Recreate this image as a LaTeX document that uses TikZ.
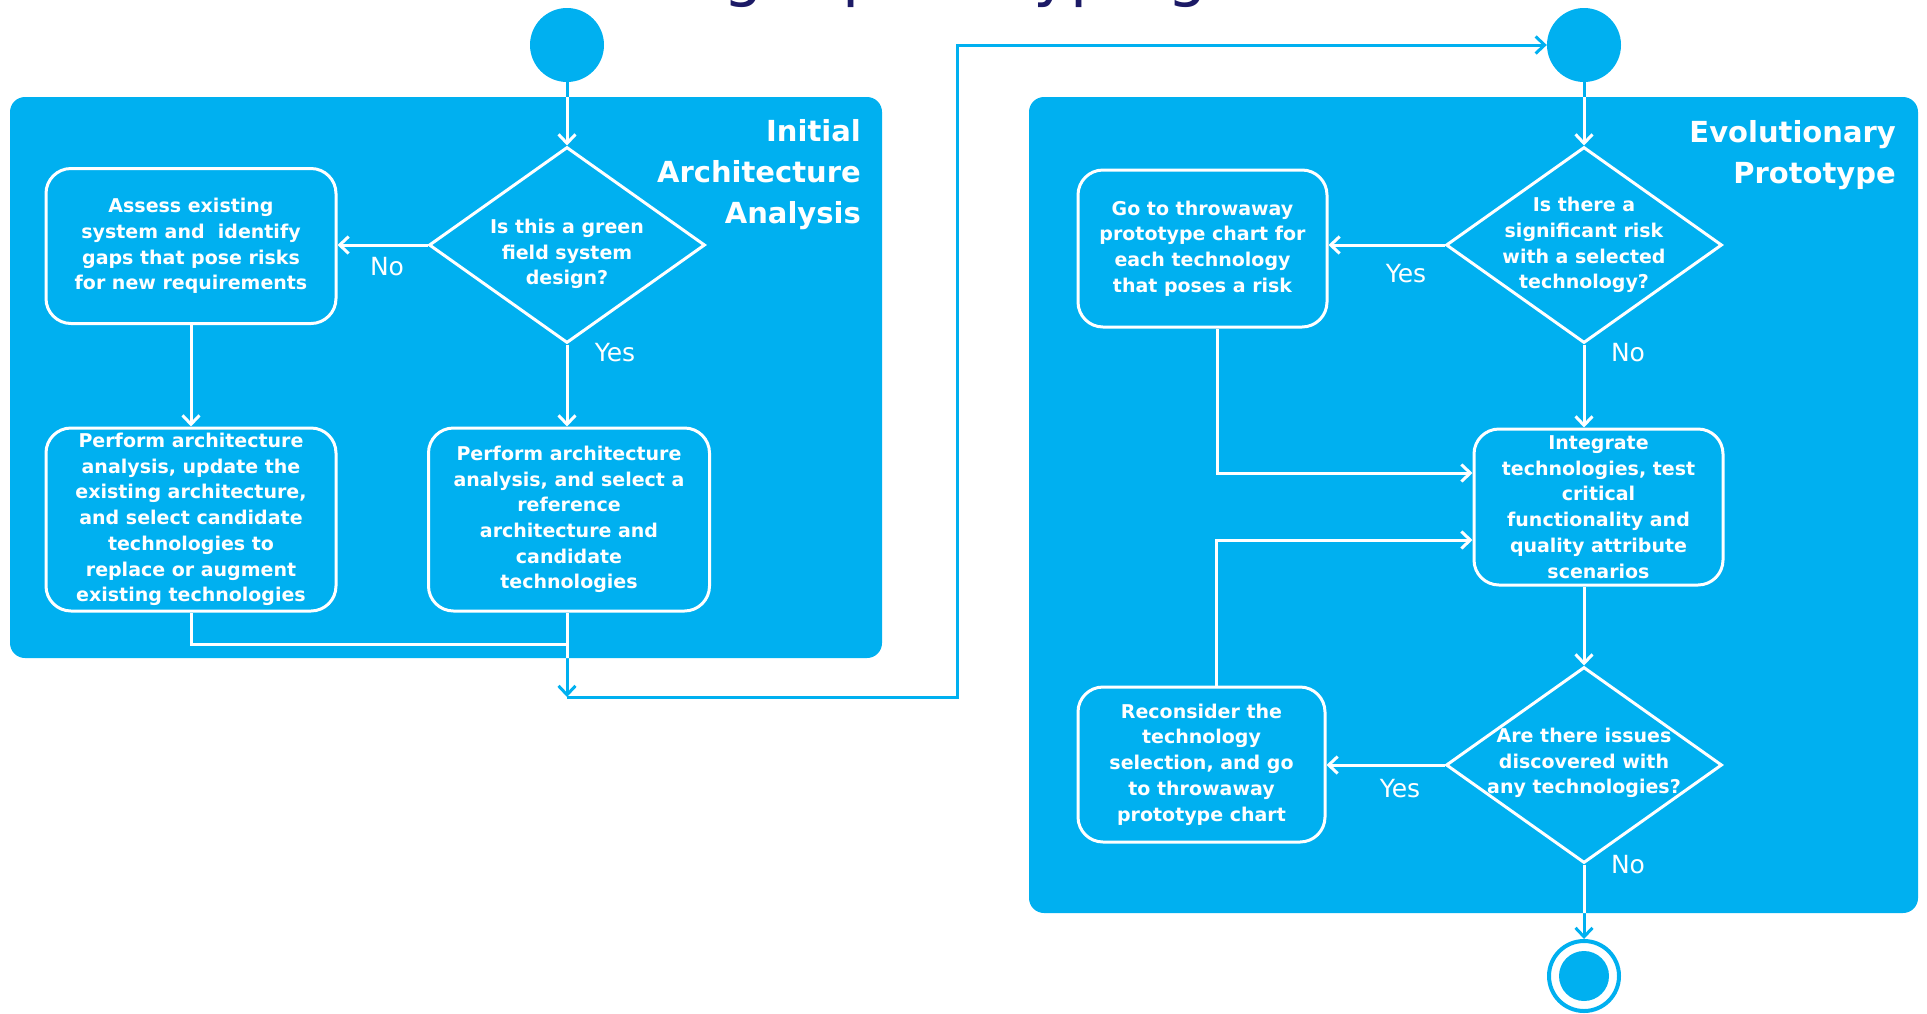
\documentclass[tikz,border=0pt]{standalone}
\usepackage{fontspec}
\setmainfont{DejaVu Sans}
\usetikzlibrary{shapes.geometric,arrows.meta}

\definecolor{panelblue}{RGB}{0,176,240}
\definecolor{titlenavy}{RGB}{28,26,102}
\colorlet{flowcol}{panelblue}

\newcommand\stepfont{\fontsize{19}{25.7}\selectfont\bfseries}
\newcommand\branchfont{\fontsize{25}{30}\selectfont}
\newcommand\lanefont{\fontsize{29}{41}\selectfont\bfseries}

\tikzset{
  panel/.style={fill=panelblue, rounded corners=15pt},
  startdot/.style={circle, fill=panelblue, minimum size=74pt, inner sep=0},
  stepbox/.style={draw=white, line width=3pt, rounded corners=25pt, inner sep=0,
    align=center, text=white, font=\stepfont},
  decision/.style={diamond, draw=white, line width=3pt, minimum width=276pt,
    minimum height=196pt, inner sep=0},
  decisiontext/.style={align=center, text=white, font=\stepfont, inner sep=0},
  branch/.style={text=white, font=\branchfont, inner sep=0},
  lanetitle/.style={align=right, text=white, font=\lanefont, inner sep=0, anchor=north east},
  flow/.style={draw=flowcol, line width=3pt, -{Straight Barb[length=9pt,width=17pt]}},
  plainflow/.style={draw=flowcol, line width=3pt},
}

% every connector of the chart; drawn once in blue and once in white inside the lanes
\newcommand\chartflows{%
  \draw[flow] (s1) -- (d1.north);
  \draw[flow] (d1.west) -- (d1.west -| a.east);
  \draw[flow] (a.south) -- (b.north);
  \draw[flow] (d1.south) -- (d1.south |- c.north);
  \draw[plainflow] (b.south) |- (j);
  \draw[flow] (c.south -| j) -- (m);
  \draw[flow] (m) -- (r) |- (s2);
  \draw[flow] (s2) -- (d2.north);
  \draw[flow] (d2.west) -- (d2.west -| e.east);
  \draw[flow] (d2.south) -- (d2.south |- f.north);
  \draw[flow] ([xshift=15pt]e.south) |- ([yshift=34pt]f.west);
  \draw[flow] ([xshift=15pt]g.north) |- ([yshift=-33pt]f.west);
  \draw[flow] (f.south -| d3.north) -- (d3.north);
  \draw[flow] (d3.west) -- (d3.west -| g.east);
  \draw[flow] (d3.south) -- (endc);
}

\begin{document}
\begin{tikzpicture}[x=1pt, y=-1pt]
\useasboundingbox (0,0) rectangle (1927,1013);

% heading, mostly above the page edge
\begin{scope}
  \clip (0,0) rectangle (1927,1013);
  \node[anchor=base east, inner sep=0, text=titlenavy, font=\fontsize{63}{70}\selectfont]
    (heading) at (1208,-6) {Using a prototyping};
\end{scope}

% swim lanes
\fill[panel] (10,97) rectangle (882,658);
\fill[panel] (1029,97) rectangle (1918,913);

\node[lanetitle] (lane1) at (861,119) {Initial\\Architecture\\Analysis};
\node[lanetitle] (lane2) at (1896,120) {Evolutionary\\Prototype};

% start and end points
\node[startdot] (s1) at (567,45) {};
\node[startdot] (s2) at (1584,45) {};
\node[circle, draw=panelblue, line width=4pt, minimum size=70pt, inner sep=0] (endc) at (1584,976) {};
\node[circle, fill=panelblue, minimum size=50pt, inner sep=0] (endcore) at (endc) {};

% initial architecture analysis
\node[decision] (d1) at (567,245) {};
\node[decisiontext] (d1t) at (567,254) {Is this a green\\field system\\design?};
\node[stepbox, minimum width=290pt, minimum height=155pt] (a) at (191,246)
  {Assess existing\\system and~ identify\\gaps that pose risks\\for new requirements};
\node[stepbox, minimum width=290pt, minimum height=183pt] (b) at (191,519.5)
  {Perform architecture\\analysis, update the\\existing architecture,\\and select candidate\\technologies to\\replace or augment\\existing technologies};
\node[stepbox, minimum width=281pt, minimum height=183pt] (c) at (569,519.5)
  {Perform architecture\\analysis, and select a\\reference\\architecture and\\candidate\\technologies};
\node[branch] (no1) at (387,267) {No};
\node[branch] (yes1) at (615,353) {Yes};

\coordinate (j) at (567,644);
\coordinate (m) at (567,697);
\coordinate (r) at (957,697);

% evolutionary prototype
\node[decision] (d2) at (1584,245) {};
\node[decisiontext] (d2t) at (1584,245) {Is there a\\significant risk\\with a selected\\technology?};
\node[stepbox, minimum width=249pt, minimum height=157pt] (e) at (1202.5,248.5)
  {Go to throwaway\\prototype chart for\\each technology\\that poses a risk};
\node[stepbox, minimum width=249pt, minimum height=156pt] (f) at (1598.5,507)
  {Integrate\\technologies, test\\critical\\functionality and\\quality attribute\\scenarios};
\node[decision] (d3) at (1584,765) {};
\node[decisiontext] (d3t) at (1584,763) {Are there issues\\discovered with\\any technologies?};
\node[stepbox, minimum width=247pt, minimum height=155pt] (g) at (1201.5,764.5)
  {Reconsider the\\technology\\selection, and go\\to throwaway\\prototype chart};
\node[branch] (yes2) at (1406,274) {Yes};
\node[branch] (no2) at (1628,353) {No};
\node[branch] (yes3) at (1400,789) {Yes};
\node[branch] (no3) at (1628,865) {No};

% connectors: blue everywhere, white where they run over a lane
\chartflows
\begin{scope}
  \clip (10,97) rectangle (882,658) (1029,97) rectangle (1918,913);
  \colorlet{flowcol}{white}
  \chartflows
\end{scope}
\end{tikzpicture}
\end{document}
